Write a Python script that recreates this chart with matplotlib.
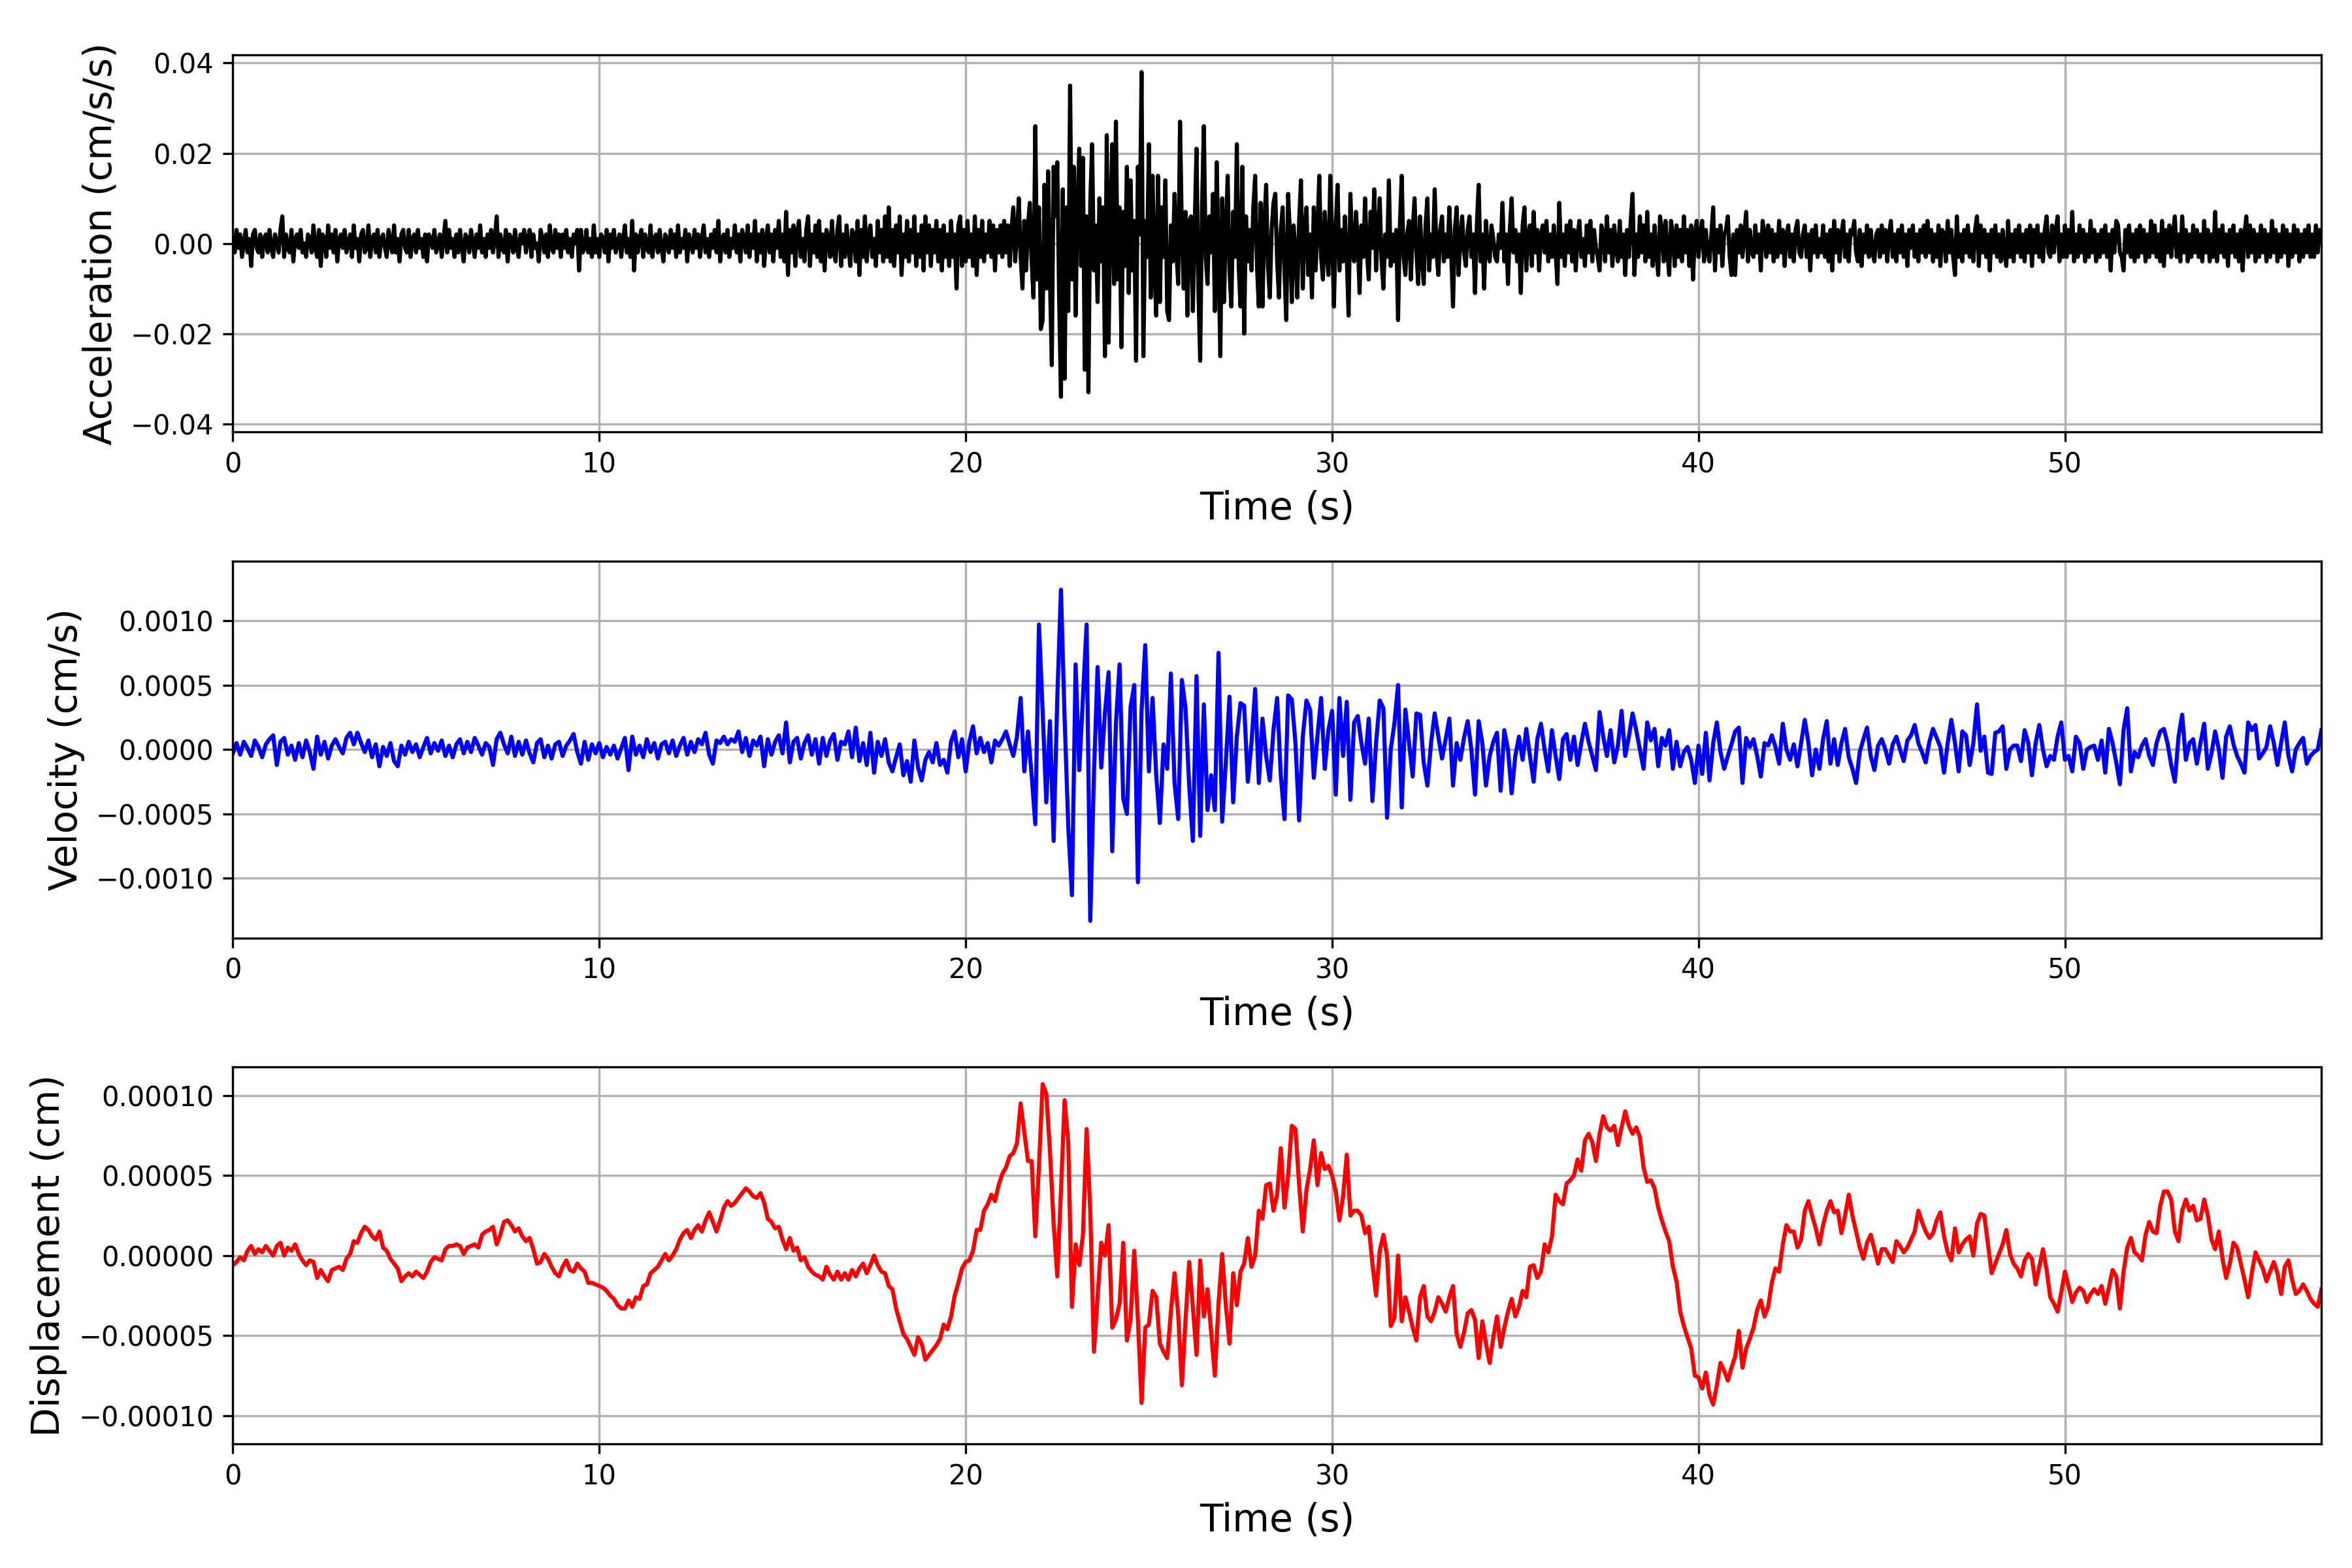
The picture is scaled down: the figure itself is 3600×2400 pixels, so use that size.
"""Acceleration / velocity / displacement traces of one record, stacked."""
import numpy as np
import matplotlib
matplotlib.use("Agg")          # headless
import matplotlib.pyplot as plt

# sample spacing of the hand-read traces (s)
DT_ACC = 0.05
DT_VEL = 0.1
DT_DISP = 0.1

# acceleration in 1e-3 cm/s/s, 20 samples per second (one line = one second)
acc_milli = [
    1, -2, 3, -1, 2, -3, 0, 3, -2, 1, -5, 2, 3, -1, -2, 2, -3, 1, 2, -2,
    3, -1, -3, 2, 0, -2, 3, 6, -3, 2, -1, -2, 3, -4, 1, 2, -1, 3, -2, 0,
    -3, 2, 1, -2, 4, -1, -3, 3, -5, 2, 1, -3, 4, -1, 2, -2, 3, -4, 1, 2,
    -1, 3, -2, 0, 2, -3, 4, -1, 1, -4, 2, 3, -2, -1, 4, -3, 1, 2, -2, 3,
    -3, 1, 2, -1, -3, 3, 0, -2, 4, -2, 1, -4, 2, 3, -1, -2, 3, -3, 1, 2,
    -2, 3, -1, 1, -3, 2, -4, 2, 1, -1, 3, -2, 0, 2, -3, 1, 5, -2, 3, -1,
    1, -3, 2, -2, 3, -1, -4, 2, 1, -2, 3, 0, -3, 2, -1, 4, -2, 1, -3, 2,
    -1, 3, -2, 1, 6, -3, 2, -1, -2, 3, -4, 2, 1, -2, 3, -1, -3, 2, 0, 3,
    -2, 1, 3, -3, 2, -1, 0, -4, 3, 1, -2, 2, -3, 4, -1, -2, 3, -1, 2, -3,
    2, -1, 3, -2, 1, -3, 2, 0, 3, -6, 3, -2, -1, 3, -2, 1, -3, 4, -2, 1,
    -3, 2, 1, -2, 3, -4, 2, -1, 3, -2, 0, 2, -3, 1, 4, -2, 1, -3, 5, -6,
    2, -2, 1, 3, -3, 2, -1, -2, 4, -3, 1, 2, -2, 3, -1, -4, 2, 1, -2, 3,
    -1, 2, -3, 4, -2, 1, -1, 3, -4, 2, 0, -2, 3, -1, 2, -3, 1, 4, -2, 1,
    -3, 2, -1, 3, -2, 5, -4, 1, 2, -2, 3, -3, 1, -1, 4, -2, 2, -4, 3, 1,
    -2, 4, -3, 2, -1, 5, -4, 2, -2, 3, -5, 1, 4, -2, 2, -4, 3, -1, 5, -3,
    2, -4, 7, -7, 3, -2, 4, -5, 2, 5, -3, 1, -4, 3, 6, -5, 2, -2, 4, -3,
    5, -4, 2, -6, 3, 1, -3, 5, -2, -4, 3, 6, -5, 2, -3, 4, -1, -5, 3, 2,
    -4, 5, -7, 3, -3, 6, -4, 2, 4, -3, 1, -5, 5, -2, 3, -4, 6, -3, 8, -4,
    3, -5, 4, -2, 6, -7, 2, -3, 5, -4, 3, -2, 6, -5, 2, -3, 4, -6, 6, -2,
    4, -5, 3, -2, 5, -4, 3, -6, 4, -3, 2, -5, 5, -3, 2, -10, 4, 6, -5, 3,
    -4, 5, -3, 2, -5, 6, -7, 3, -3, 5, -4, 2, -2, 5, -3, 4, -6, 3, -2, 4,
    -3, 5, -2, 4, -5, 3, 8, -4, 2, 10, -3, -10, 5, -6, 4, 9, -4, -12, 26, -8,
    8, -19, -17, 13, -10, 16, -8, -27, 17, 6, 18, -12, -34, 12, -30, 8, -15, 35, -8, 17,
    -16, 8, 21, -5, 19, -28, 6, -33, 9, 22, -6, 4, -13, 10, -4, 8, -25, 24, -22, 6,
    22, -9, 27, -8, 8, -23, 7, -5, 17, -11, 14, -6, 5, -26, 17, 2, 38, -25, 5, -3,
    22, -12, 15, -5, -16, 15, -13, 8, -3, 14, -15, -17, 4, -4, 11, -2, -9, 27, 3, -10,
    7, -16, 5, 6, -15, 4, 21, -10, -26, 8, 26, -3, -9, 6, -2, 11, -15, 18, -3, -25,
    10, -13, 3, 15, -6, -14, 7, -3, 22, -5, -14, 17, -20, 6, -4, 3, -6, 8, 15, -5,
    -14, 9, -14, 4, 13, -5, -12, 3, 9, 11, -4, -12, 3, 8, -6, -17, 11, 2, -13, 4,
    -2, -12, 5, 14, -10, 3, 8, -7, 2, -12, 8, -6, 3, 15, -3, -8, 7, -2, -7, 15,
    2, -14, 4, 13, -6, 3, -4, 6, -3, -16, 11, -2, -4, 7, 1, -11, 4, -3, 10, -2,
    -8, 7, -1, 12, -6, 3, 10, -4, -10, 2, -3, 14, -5, 2, -4, 3, -17, 4, 15, -3,
    -7, 2, 5, -8, 3, 10, -2, -9, 6, -3, -9, 4, 10, -6, 2, -3, 12, -2, -7, 3,
    6, -4, 2, -3, 8, -2, -14, 3, 8, -7, 1, 6, -2, -5, 3, 6, -3, 2, -11, 4,
    13, -4, 2, -10, 5, -2, -4, 4, 1, -3, -4, 2, -1, 9, -4, 2, -9, 3, 10, -2,
    3, -4, 2, -11, 4, 8, -6, 2, 4, -5, 7, -2, 3, -6, 2, 4, -2, 5, -4, 2,
    -3, 4, -2, -9, 9, -3, 2, -5, 4, -2, 5, -4, 3, -6, 2, 5, -3, 1, -5, 4,
    -2, 5, -4, 3, -1, -3, -6, 4, 2, -4, 6, -2, 3, -5, 4, -1, -4, 5, -3, 2,
    -7, 3, -3, 5, 11, -7, 2, -3, 6, -2, 4, -4, 7, -3, 2, -5, 4, -2, -7, 6,
    3, -4, 5, -2, -7, 5, 2, -5, 4, -3, 3, -4, 6, -2, 3, -5, 4, -8, 2, 5,
    -3, 2, 5, -4, 3, -2, -4, 2, 8, -6, 3, -2, 4, -5, 2, 3, 6, -3, -7, 2,
    -7, 3, -2, 4, -3, 2, 7, -4, 3, -2, -3, 4, -2, 2, -6, 5, 2, -3, 4, -2,
    3, -4, 2, -3, 5, -2, 3, -5, 2, 4, -3, 2, -4, 3, 5, -2, -3, 2, 4, -3,
    2, -6, 3, -2, 4, -3, 1, -2, 4, -3, 2, -4, 3, -6, 5, -2, 3, -4, 2, 5,
    -3, 2, -4, 3, 2, 5, -2, -4, 3, -5, 2, -2, 4, -3, 3, -2, -4, 2, 3, -3,
    4, -2, 3, -4, 2, 5, -3, 2, -4, 3, -2, 4, -3, 2, -5, 3, -1, 4, -3, 2,
    -4, 3, -2, 4, -3, 5, -2, 3, -4, 2, -3, 4, -5, 3, 2, -4, 5, -2, 3, -3,
    -7, 6, -3, 2, -4, 3, -2, 4, -3, 2, -4, 3, 6, -5, 4, -2, 3, -3, 2, -6,
    3, -2, 4, -3, 2, -4, 3, -2, -5, 5, -3, 2, -4, 3, -2, 4, -3, 2, -4, 3,
    -2, 4, -5, 3, -2, 4, -3, 2, -4, 3, 6, -2, -3, 4, -2, 3, 6, -4, 2, -3,
    4, -3, 3, -2, 7, -4, 2, -3, 4, -2, 3, -4, 2, -3, 5, -2, 3, -4, 2, -3,
    3, -2, 4, -3, 2, -6, 3, -2, 5, 4, -2, -3, -6, 3, -2, 4, -3, 2, -4, 3,
    -3, 4, -2, 3, -4, 2, -3, 5, -2, 4, -3, 2, -4, 5, -5, 3, -2, 4, -3, 2,
    6, -3, 2, -4, 6, -2, 3, -4, 2, -3, 4, -2, 3, -3, 2, -4, 5, -2, 3, -4,
    2, -3, 7, -4, 3, -2, 4, -3, 2, -5, 3, -2, 4, -3, 2, -4, 3, -6, 2, 6,
    -3, 4, -2, 3, -4, 2, -3, 4, -2, 3, -4, 2, -3, 5, -2, 3, -4, 2, -3, 4,
    -2, 3, -5, 2, -3, 4, -2, 3, -4, 2, -3, 3, -2, 4, -3, 2, -3, 4, -2, 3,
    1,
]

# velocity in 1e-5 cm/s, 10 samples per second
vel_e5 = [
    -3, 5, -4, 6, 1, -5, 7, 2, -6, 4,
    8, 11, -12, 6, 9, -4, 3, -8, 5, -6,
    7, -2, -15, 10, -4, 6, -7, 3, 8, 2,
    -3, 9, 13, 4, 13, 5, -2, 7, -6, 4,
    -13, 2, -5, 5, -9, -13, 3, -4, 6, -2,
    4, -6, 2, 9, -3, 5, -1, 7, -5, 3,
    -6, 4, 8, -3, 6, -2, 9, 3, -4, 5,
    2, -12, 8, 13, 4, -3, 10, -5, 6, -4,
    7, -3, -10, 5, 8, -6, 3, -7, 4, 6,
    -5, 3, 7, 12, -2, -11, 6, -8, 4, -3,
    5, -6, 2, -4, 3, -7, 1, 9, -16, 10,
    -4, 3, -6, 8, -2, 5, -7, 4, 6, -3,
    7, -5, 3, 9, -4, 6, -2, 8, 4, 13,
    -4, -11, 7, 5, 10, 4, 8, 6, 14, -2,
    9, -5, 7, 3, 10, -13, 8, -4, 6, 11,
    -3, 21, -10, 6, 9, -7, 5, 11, -4, 8,
    -11, 9, -5, 7, 12, -8, 6, 4, 14, -6,
    17, -9, 5, -12, 13, -18, 6, -5, 8, -10,
    -17, -6, 4, -20, -9, -25, 7, -14, -24, -8,
    -2, -10, 5, -12, -8, -18, 6, 14, -6, 8,
    -17, 6, 18, -3, 9, -2, 5, -10, 7, 3,
    8, 14, 4, -5, 10, 40, -17, 14, -20, -58,
    97, 30, -41, 22, -71, 40, 124, 24, -60, -113,
    66, -16, 40, 97, -133, -20, 64, -14, 28, 60,
    -79, 20, 66, -38, -50, 33, 50, -103, 30, 81,
    -17, 40, -20, -57, 4, -15, 59, -26, -54, 54,
    32, -28, -71, 57, -67, 35, -47, -20, -47, 75,
    -56, -10, 41, -41, 10, 36, 34, -25, 5, 47,
    -26, 24, -5, -24, 15, 40, -20, -54, 42, 39,
    5, -55, 10, 38, 31, -22, 10, 40, -15, 15,
    30, -35, 40, -5, 37, -39, 21, 26, 5, -11,
    24, -40, 5, 38, 32, -53, 0, 20, 50, -45,
    31, 5, -21, 28, 27, -10, -28, 5, 28, 10,
    -7, 8, 24, -28, 5, -8, 9, 22, 0, -35,
    22, 5, -28, -5, 6, 13, -32, 15, 0, -34,
    -5, 10, -8, 16, -5, -25, 8, 20, 0, -17,
    15, -5, -23, 8, 12, -8, 10, -12, 5, 20,
    6, -5, -16, 29, 10, -5, 15, -10, 3, 30,
    -5, 10, 28, 15, 0, -15, 21, 7, 16, -13,
    9, 3, 15, -15, 6, -13, -2, 2, -8, -26,
    3, -19, 13, -24, 5, 21, -2, -15, -5, 4,
    14, 17, -26, 9, 2, 8, -5, -21, 5, 3,
    11, 2, -11, 20, 0, -8, 4, -13, 5, 23,
    5, -20, 0, -15, 8, 22, -11, 8, -12, 5,
    16, -6, -15, -26, -2, 8, 17, -5, -16, 3,
    8, 0, -11, 4, 10, 0, -9, 7, 11, 19,
    5, -2, -10, 6, 16, 9, 2, -18, 5, 23,
    5, -17, 14, 11, -12, 5, 35, -1, 10, -18,
    -19, 13, 14, 18, -15, 0, 3, 3, -9, 15,
    5, -20, 5, 19, 0, -13, -5, -8, 10, 21,
    -8, -5, -17, 10, 5, -15, 0, 2, 3, -8,
    7, -18, 16, 5, -10, -27, 15, 32, -17, -2,
    -6, 3, 8, -5, -12, 5, 14, 16, 5, -12,
    -25, 10, 27, -8, 5, 8, -11, 5, 20, -15,
    -3, 14, 0, -22, 10, 18, 4, -5, -11, -18,
    21, 15, 19, -7, -3, 2, 18, 5, -12, 5,
    21, -5, -17, 0, 5, 9, -11, -5, -2, 0,
    15,
]

# displacement in 1e-6 cm, 10 samples per second
disp_e6 = [
    -6, -4, -1, -3, 3, 6, 1, 4, 2, 6,
    3, 0, 6, 8, 0, 5, 3, 7, 1, -3,
    -6, -3, -4, -14, -9, -13, -16, -9, -8, -7,
    -9, -2, 1, 9, 8, 14, 18, 16, 12, 10,
    15, 5, 3, -2, -5, -8, -16, -13, -11, -13,
    -10, -12, -14, -10, -4, -1, -2, -3, 4, 6,
    6, 7, 6, 1, 5, 6, 7, 5, 13, 15,
    16, 18, 7, 13, 21, 22, 19, 15, 17, 12,
    9, 11, 4, -5, -4, 1, -2, -7, -11, -13,
    -7, -3, -9, -10, -5, -8, -10, -17, -17, -18,
    -19, -20, -22, -25, -27, -31, -33, -33, -28, -32,
    -26, -27, -19, -18, -11, -9, -7, -3, 1, -3,
    0, 4, 10, 14, 16, 11, 16, 19, 15, 22,
    27, 21, 15, 22, 30, 34, 31, 33, 36, 39,
    42, 40, 37, 36, 39, 33, 23, 21, 17, 18,
    10, 4, 11, 3, 5, -3, -1, -7, -10, -12,
    -13, -15, -7, -12, -15, -10, -15, -11, -15, -9,
    -13, -8, -5, -11, -6, 0, -6, -10, -11, -19,
    -21, -33, -41, -49, -52, -57, -62, -51, -55, -65,
    -62, -59, -56, -52, -43, -46, -38, -25, -17, -8,
    -4, -3, 3, 16, 16, 28, 32, 38, 34, 44,
    51, 55, 62, 64, 70, 95, 77, 59, 59, 12,
    56, 107, 101, 65, 20, -13, 40, 97, 70, -32,
    7, -6, 13, 79, 28, -60, -26, 8, 0, 19,
    -45, -40, -30, 8, -53, -40, 3, -40, -92, -45,
    -43, -22, -26, -55, -60, -64, -35, -11, -37, -81,
    -40, -4, -32, -62, -3, -38, -21, -48, -75, -30,
    1, -31, -55, -11, -31, -10, -5, 11, -7, 0,
    28, 23, 44, 45, 28, 38, 67, 30, 50, 81,
    79, 44, 15, 41, 54, 72, 44, 64, 54, 56,
    50, 40, 22, 37, 63, 25, 28, 28, 25, 14,
    18, -5, -25, 3, 13, 0, -44, -39, 0, -41,
    -26, -35, -45, -53, -26, -19, -38, -41, -35, -26,
    -30, -35, -26, -19, -49, -57, -48, -36, -34, -40,
    -64, -41, -55, -67, -51, -38, -57, -45, -35, -27,
    -38, -32, -22, -26, -7, -6, -14, -10, 7, 2,
    12, 38, 34, 32, 45, 47, 50, 60, 53, 72,
    76, 71, 59, 76, 87, 80, 78, 81, 69, 80,
    90, 81, 76, 80, 74, 55, 46, 47, 42, 30,
    22, 15, 9, -7, -16, -35, -44, -51, -58, -75,
    -76, -83, -73, -87, -93, -81, -67, -72, -78, -70,
    -63, -47, -70, -58, -52, -45, -34, -28, -38, -32,
    -17, -8, -10, 7, 19, 15, 15, 5, 10, 28,
    34, 25, 17, 7, 19, 28, 34, 27, 28, 14,
    25, 38, 25, 15, 5, -2, 8, 13, 4, -5,
    4, 4, 0, -4, 9, 6, 2, 5, 10, 15,
    28, 21, 15, 11, 14, 22, 27, 12, 2, -3,
    17, 2, 7, 10, 12, 0, 20, 26, 25, 7,
    -11, -5, 1, 7, 16, 1, -5, -8, -13, -3,
    1, -2, -18, -7, 4, -9, -26, -30, -35, -23,
    -10, -19, -29, -23, -20, -22, -29, -24, -21, -24,
    -19, -30, -20, -9, -13, -33, -10, 5, 11, 2,
    0, -3, 13, 21, 15, 14, 31, 40, 40, 35,
    15, 9, 28, 35, 28, 31, 22, 23, 35, 25,
    10, 4, 15, -2, -14, -5, 8, 5, -5, -15,
    -26, -11, 2, -3, -8, -16, -10, -4, -11, -24,
    -7, -3, -15, -24, -22, -18, -22, -27, -30, -32,
    -21,
]

acc = np.array(acc_milli) * 1e-3
vel = np.array(vel_e5) * 1e-5
disp = np.array(disp_e6) * 1e-6
t_acc = np.arange(len(acc)) * DT_ACC
t_vel = np.arange(len(vel)) * DT_VEL
t_disp = np.arange(len(disp)) * DT_DISP

panels = [
    (t_acc, acc, "k", "Acceleration (cm/s/s)"),
    (t_vel, vel, "b", "Velocity (cm/s)"),
    (t_disp, disp, "r", "Displacement (cm)"),
]

fig, axes = plt.subplots(3, 1, figsize=(12, 8))
for ax, (t, y, color, label) in zip(axes, panels):
    ax.plot(t, y, color=color, linewidth=1.5)
    ax.set_xlim(0, 57.0)
    lim = 1.1 * np.max(np.abs(y))
    ax.set_ylim(-lim, lim)
    ax.set_xlabel("Time (s)", fontsize=14)
    ax.set_ylabel(label, fontsize=14)
    ax.grid(True)

fig.subplots_adjust(left=0.099, right=0.987, top=0.965, bottom=0.079,
                    hspace=0.342)
fig.savefig("out.png", dpi=300)
plt.close(fig)
